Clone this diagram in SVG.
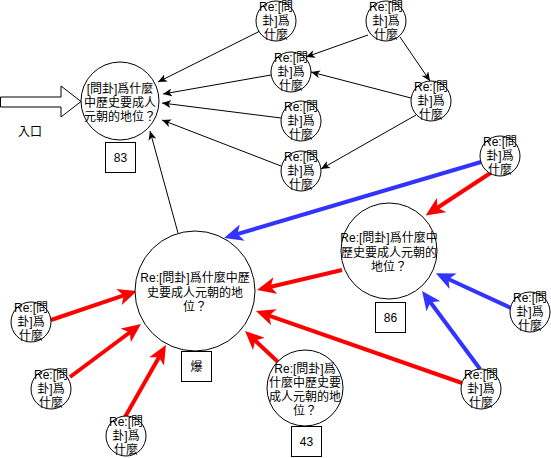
<svg xmlns="http://www.w3.org/2000/svg" width="551" height="458" viewBox="0 0 551 458">
<defs>
<style>
.n{fill:#fff;stroke:#000;stroke-width:1}
.b{fill:#fff;stroke:#000;stroke-width:1}
text{font-family:"Liberation Sans","Noto Sans CJK TC",sans-serif;font-size:12px;fill:#000;text-anchor:middle}
.thin{stroke:#000;stroke-width:1;fill:none;marker-end:url(#ak)}
.red{stroke:#ff0000;stroke-width:4;fill:none;marker-end:url(#ar)}
.blue{stroke:#3333ff;stroke-width:4;fill:none;marker-end:url(#ab)}
</style>
<marker id="ak" markerUnits="userSpaceOnUse" viewBox="0 0 9 8" refX="9" refY="4" markerWidth="9" markerHeight="8" orient="auto"><path d="M0,0 L9,4 L0,8 L2.5,4 Z" fill="#000"/></marker>
<marker id="ar" markerUnits="userSpaceOnUse" viewBox="0 0 19 17" refX="9" refY="8.5" markerWidth="19" markerHeight="17" orient="auto"><path d="M0,0 L19,8.5 L0,17 L5,8.5 Z" fill="#ff0000"/></marker>
<marker id="ab" markerUnits="userSpaceOnUse" viewBox="0 0 19 17" refX="9" refY="8.5" markerWidth="19" markerHeight="17" orient="auto"><path d="M0,0 L19,8.5 L0,17 L5,8.5 Z" fill="#3333ff"/></marker>
</defs>
<rect width="551" height="458" fill="#fff"/>
<g id="connectors">
<line class="thin" x1="262" y1="30" x2="158" y2="82"/>
<line class="thin" x1="271" y1="75" x2="163" y2="94"/>
<line class="thin" x1="281" y1="118" x2="162" y2="103"/>
<line class="thin" x1="281" y1="166" x2="162" y2="120"/>
<line class="thin" x1="178" y1="233" x2="150" y2="131"/>
<line class="thin" x1="368" y1="35" x2="306" y2="57"/>
<line class="thin" x1="400" y1="37" x2="430" y2="81"/>
<line class="thin" x1="411" y1="98" x2="311" y2="72"/>
<line class="thin" x1="416" y1="115" x2="321" y2="169"/>
<line class="blue" x1="481" y1="162" x2="233.6" y2="235.2"/>
<line class="red" x1="492" y1="172" x2="434" y2="210"/>
<line class="red" x1="342" y1="270" x2="266.7" y2="287.7"/>
<line class="red" x1="462" y1="383" x2="265.4" y2="314.3"/>
<line class="red" x1="278" y1="362" x2="252.3" y2="337.8"/>
<line class="blue" x1="511" y1="308" x2="444.9" y2="277.5"/>
<line class="blue" x1="480" y1="369" x2="428" y2="299"/>
<line class="red" x1="51" y1="320" x2="127.5" y2="294.2"/>
<line class="red" x1="70" y1="377" x2="133" y2="330"/>
<line class="red" x1="125" y1="417" x2="161" y2="353.7"/>
</g>
<g id="entry">
<polygon points="0.5,97 61,97 61,86 81,101.5 61,117 61,107 0.5,107" fill="#fff" stroke="#000"/>
<text x="30" y="136">入口</text>
</g>
<g id="nodeA">
<circle class="n" cx="120" cy="101" r="39"/>
<text x="120" y="93">[問卦]爲什麼</text>
<text x="120" y="107">中歷史要成人</text>
<text x="120" y="121">元朝的地位？</text>
<rect class="b" x="105.5" y="142.5" width="30" height="30"/>
<text x="120.5" y="162">83</text>
</g>
<g id="nodeB">
<circle class="n" cx="389" cy="251" r="48"/>
<text x="389" y="242">Re:[問卦]爲什麼中</text>
<text x="389" y="257">歷史要成人元朝的</text>
<text x="389" y="271">地位？</text>
<rect class="b" x="375.5" y="302.5" width="30" height="30"/>
<text x="390.5" y="322">86</text>
</g>
<g id="nodeC">
<circle class="n" cx="195" cy="291" r="60"/>
<text x="195" y="282">Re:[問卦]爲什麼中歷</text>
<text x="195" y="297">史要成人元朝的地</text>
<text x="195" y="311">位？</text>
<rect class="b" x="181.5" y="351.5" width="30" height="30"/>
<text x="196.5" y="371">爆</text>
</g>
<g id="nodeD">
<circle class="n" cx="305" cy="388" r="38"/>
<text x="305" y="373">Re:[問卦]爲</text>
<text x="305" y="387">什麼中歷史要</text>
<text x="305" y="401">成人元朝的地</text>
<text x="305" y="415">位？</text>
<rect class="b" x="291.5" y="426.5" width="30" height="30"/>
<text x="306.5" y="446">43</text>
</g>
<g id="s1"><circle class="n" cx="276" cy="21" r="20"/><text x="276" y="11">Re:[問</text><text x="276" y="25">卦]爲</text><text x="276" y="39">什麼</text></g>
<g id="s2"><circle class="n" cx="386" cy="21" r="20"/><text x="386" y="11">Re:[問</text><text x="386" y="25">卦]爲</text><text x="386" y="39">什麼</text></g>
<g id="s3"><circle class="n" cx="291" cy="72" r="20"/><text x="291" y="62">Re:[問</text><text x="291" y="76">卦]爲</text><text x="291" y="90">什麼</text></g>
<g id="s4"><circle class="n" cx="431" cy="101" r="20"/><text x="431" y="91">Re:[問</text><text x="431" y="105">卦]爲</text><text x="431" y="119">什麼</text></g>
<g id="s5"><circle class="n" cx="301" cy="121" r="20"/><text x="301" y="111">Re:[問</text><text x="301" y="125">卦]爲</text><text x="301" y="139">什麼</text></g>
<g id="s6"><circle class="n" cx="301" cy="171" r="20"/><text x="301" y="161">Re:[問</text><text x="301" y="175">卦]爲</text><text x="301" y="189">什麼</text></g>
<g id="s7"><circle class="n" cx="500" cy="156" r="20"/><text x="500" y="146">Re:[問</text><text x="500" y="160">卦]爲</text><text x="500" y="174">什麼</text></g>
<g id="s8"><circle class="n" cx="530" cy="312" r="20"/><text x="530" y="302">Re:[問</text><text x="530" y="316">卦]爲</text><text x="530" y="330">什麼</text></g>
<g id="s9"><circle class="n" cx="481" cy="389" r="20"/><text x="481" y="379">Re:[問</text><text x="481" y="393">卦]爲</text><text x="481" y="407">什麼</text></g>
<g id="s10"><circle class="n" cx="31" cy="322" r="20"/><text x="31" y="312">Re:[問</text><text x="31" y="326">卦]爲</text><text x="31" y="340">什麼</text></g>
<g id="s11"><circle class="n" cx="51" cy="389" r="20"/><text x="51" y="379">Re:[問</text><text x="51" y="393">卦]爲</text><text x="51" y="407">什麼</text></g>
<g id="s12"><circle class="n" cx="126" cy="436" r="20"/><text x="126" y="426">Re:[問</text><text x="126" y="440">卦]爲</text><text x="126" y="454">什麼</text></g>
</svg>
